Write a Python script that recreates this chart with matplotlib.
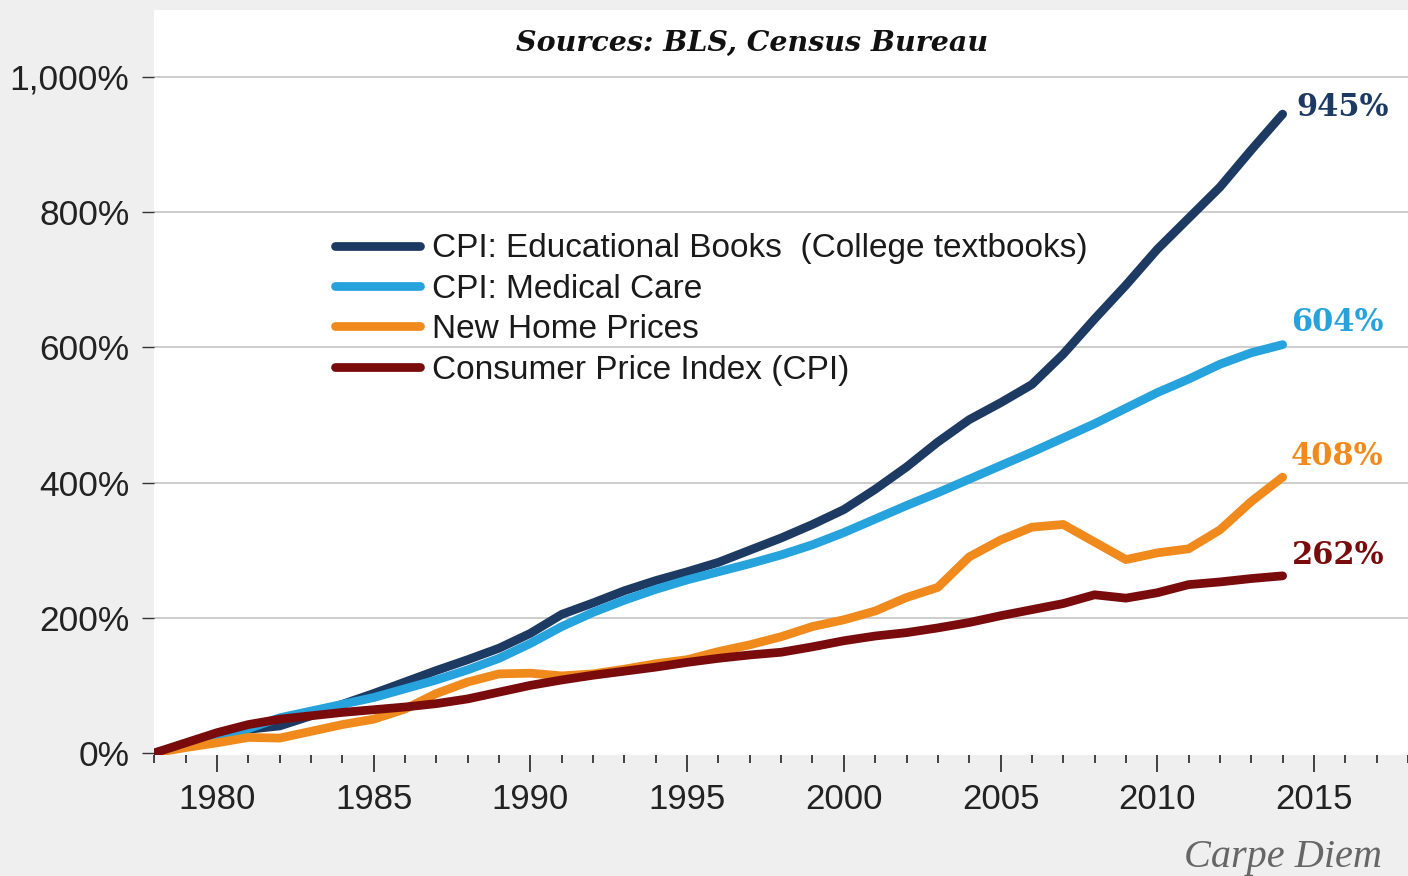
import matplotlib
matplotlib.use("Agg")
import matplotlib.pyplot as plt
from matplotlib.ticker import FixedLocator, FuncFormatter, MultipleLocator

years = list(range(1978, 2015))
books = [0, 12, 25, 35, 40, 55, 72, 88, 105, 122,
         138, 155, 177, 205, 222, 240, 255, 268, 282, 300,
         318, 338, 360, 390, 423, 460, 493, 518, 545, 590,
         642, 692, 745, 791, 837, 892, 945]
medical = [0, 10, 22, 36, 52, 62, 72, 82, 95, 108,
           123, 140, 162, 187, 208, 226, 242, 256, 268, 280,
           293, 308, 326, 346, 366, 385, 405, 425, 445, 466,
           487, 510, 533, 553, 575, 592, 604]
homes = [0, 8, 15, 23, 22, 32, 42, 50, 65, 88,
         105, 117, 118, 114, 117, 124, 132, 138, 150, 160,
         172, 187, 197, 210, 230, 245, 290, 315, 334, 338,
         312, 286, 296, 302, 330, 372, 408]
cpi = [0, 15, 30, 42, 50, 55, 60, 64, 68, 73,
       80, 90, 100, 108, 115, 121, 127, 134, 140, 145,
       149, 157, 166, 173, 178, 185, 193, 203, 212, 221,
       234, 229, 237, 249, 253, 258, 262]

series_names = ["CPI: Educational Books  (College textbooks)",
                "CPI: Medical Care",
                "New Home Prices",
                "Consumer Price Index (CPI)"]
end_labels = ["945%", "604%", "408%", "262%"]
y_ticks = [0, 200, 400, 600, 800, 1000]
x_major = [1980, 1985, 1990, 1995, 2000, 2005, 2010, 2015]

colors = ["#1d3a63", "#26a2dc", "#f08a1c", "#7a0b0d"]

W, H = 1408, 876
fig = plt.figure(figsize=(W / 100, H / 100), dpi=100)
fig.patch.set_facecolor("#efefef")

ax = fig.add_axes([154.3 / W, (H - 755) / H, 1 - 154.3 / W, (755 - 10) / H])
ax.set_facecolor("white")
ax.set_xlim(1978, 2018)
ax.set_ylim(-3, 1099)

for s in ax.spines.values():
    s.set_visible(False)

ax.yaxis.set_major_locator(FixedLocator(y_ticks))
ax.yaxis.set_major_formatter(FuncFormatter(lambda v, p: f"{int(v):,}%"))
ax.xaxis.set_major_locator(FixedLocator(x_major))
ax.xaxis.set_minor_locator(MultipleLocator(1))
ax.grid(axis="y", color="#c9c9c9", linewidth=1.3, zorder=0)
ax.set_axisbelow(True)

ax.tick_params(axis="y", which="major", length=9, width=1.0, color="#333333",
               pad=9, labelsize=25.5, labelcolor="#222222")
ax.tick_params(axis="x", which="major", length=12, width=1.3, color="#333333",
               pad=8, labelsize=25, labelcolor="#222222", direction="out")
ax.tick_params(axis="x", which="minor", length=5.5, width=1.3, color="#333333",
               direction="out")
for lab in ax.get_xticklabels() + ax.get_yticklabels():
    lab.set_fontfamily("Liberation Sans")

fig.canvas.draw()
ax.yaxis.get_gridlines()[0].set_visible(False)

data = [books, medical, homes, cpi]
for vals, c, name in zip(data, colors, series_names):
    ax.plot(years, vals, color=c, linewidth=6.3, solid_capstyle="round",
            solid_joinstyle="round", label=name, zorder=3)

offsets = [(10, 5), (6, 16), (6, 15), (7, 15)]
for vals, c, lab, off in zip(data, colors, end_labels, offsets):
    ax.annotate(lab, (years[-1], vals[-1]), xytext=off, textcoords="offset points",
                ha="left", va="center", color=c, fontsize=22,
                fontfamily="DejaVu Serif", fontweight="bold", annotation_clip=False)

leg = ax.legend(loc="upper left", bbox_to_anchor=(335 / W, (H - 233.5) / H),
                bbox_transform=fig.transFigure, frameon=False,
                prop={"family": "Liberation Sans", "size": 24},
                handlelength=2.55, handletextpad=0.36, labelspacing=0.28,
                borderpad=0, borderaxespad=0)
for h in leg.get_lines():
    h.set_linewidth(6.3)
    h.set_solid_capstyle("round")
for t in leg.get_texts():
    t.set_color("#1a1a1a")

fig.text(752 / W, (H - 43.5) / H, "Sources: BLS, Census Bureau", ha="center", va="center",
         fontsize=20.5, fontfamily="DejaVu Serif", fontweight="bold", fontstyle="italic",
         color="#111111")

fig.text(1382 / W, (H - 857) / H, "Carpe Diem", ha="right", va="center",
         fontsize=29, fontfamily="Liberation Serif", fontstyle="italic", color="#666666")

fig.savefig("out.png", dpi=100, facecolor=fig.get_facecolor())
